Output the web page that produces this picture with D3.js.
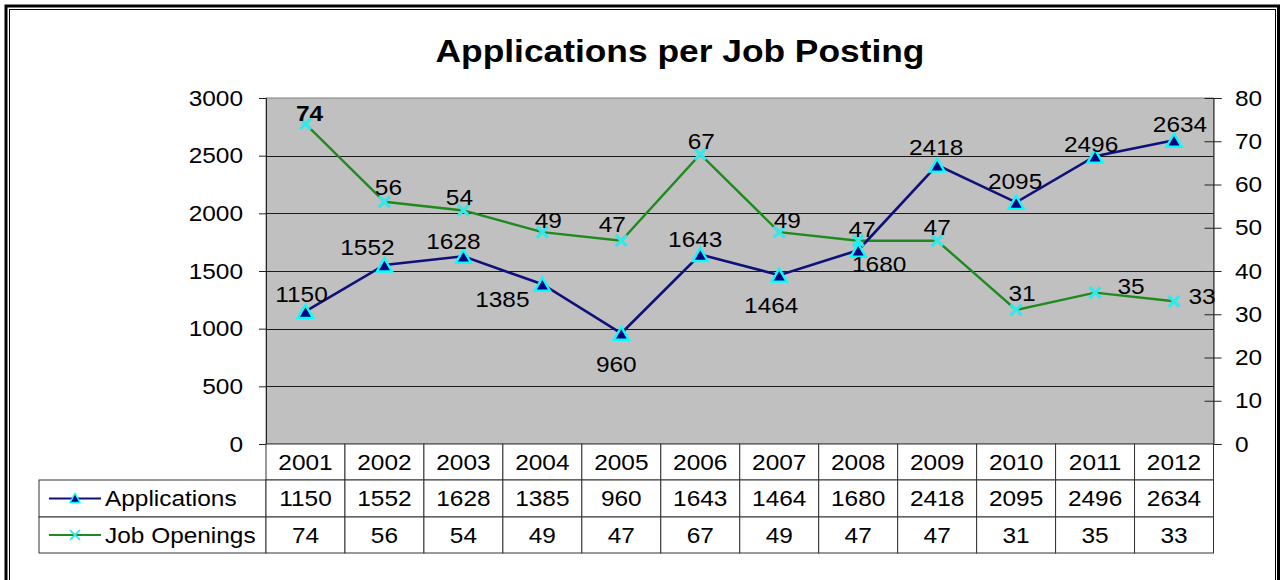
<!DOCTYPE html>
<html>
<head>
<meta charset="utf-8">
<script src="https://cdn.jsdelivr.net/npm/d3@7/dist/d3.min.js"></script>
<style>
  html, body { margin: 0; padding: 0; background: #fff; }
  svg { display: block; }
  text { font-family: "Liberation Sans", Arial, sans-serif; fill: #000; }
</style>
</head>
<body>
<svg id="chart" width="1281" height="580"></svg>
<script>
// ---- data ----
const years = ["2001", "2002", "2003", "2004", "2005", "2006", "2007", "2008", "2009", "2010", "2011", "2012"];
const applications = [1150, 1552, 1628, 1385, 960, 1643, 1464, 1680, 2418, 2095, 2496, 2634];
const jobOpenings = [74, 56, 54, 49, 47, 67, 49, 47, 47, 31, 35, 33];
const leftTicks = [0, 500, 1000, 1500, 2000, 2500, 3000];
const rightTicks = [0, 10, 20, 30, 40, 50, 60, 70, 80];
const seriesNames = ["Applications", "Job Openings"];
const titleText = "Applications per Job Posting";

// hand-placed data label offsets (dx, dy from the point)
const appLabelShift = [[-4, -17], [-17, -18], [-10, -15], [-40, 15], [-5, 31], [-5, -15],
                       [-8, 30], [21, 14], [-1, -18], [-1, -21], [-4, -12], [6, -16]];
const jobLabelShift = [[4, -11], [4, -14], [-4, -13], [6, -12], [-9, -16], [1, -13],
                       [8, -12], [4, -11], [0, -13], [6, -16], [36, -6], [28, -5]];

// ---- layout ----
const svg = d3.select("#chart");
const plot = { left: 266, right: 1213.5, top: 98, bottom: 444 };
const SX = 1.11;          // horizontal stretch of the lettering
const FS = 22;            // base font size

const x = d3.scaleBand().domain(years).range([plot.left, plot.right]).paddingInner(0).paddingOuter(0);
const cx = d => x(d) + x.bandwidth() / 2;
const yL = d3.scaleLinear().domain([0, 3000]).range([plot.bottom, plot.top]);
const yR = d3.scaleLinear().domain([0, 80]).range([plot.bottom, plot.top]);

function label(parent, tx, ty, str, anchor, size, weight, sx) {
  return parent.append("text")
    .attr("transform", `translate(${tx},${ty}) scale(${sx || SX},1)`)
    .attr("text-anchor", anchor || "middle")
    .attr("dominant-baseline", "central")
    .style("font-size", (size || FS) + "px")
    .style("font-weight", weight || "normal")
    .text(str);
}

// outer frame (double rule)
svg.append("rect").attr("x", 6).attr("y", 6).attr("width", 1272.5).attr("height", 620)
  .attr("fill", "none").attr("stroke", "#000").attr("stroke-width", 3);
svg.append("rect").attr("x", 9.5).attr("y", 9.5).attr("width", 1266).attr("height", 620)
  .attr("fill", "none").attr("stroke", "#000").attr("stroke-width", 1);

// title
label(svg, 680, 51, titleText, "middle", 31, "bold", 1.14);

// plot background
svg.append("rect")
  .attr("x", plot.left).attr("y", plot.top)
  .attr("width", plot.right - plot.left).attr("height", plot.bottom - plot.top)
  .attr("fill", "#c0c0c0").attr("stroke", "#808080").attr("stroke-width", 1);

// gridlines
svg.append("g").selectAll("line")
  .data(leftTicks.filter(t => t > 0 && t < 3000))
  .join("line")
  .attr("x1", plot.left).attr("x2", plot.right)
  .attr("y1", d => Math.round(yL(d)) + 0.5).attr("y2", d => Math.round(yL(d)) + 0.5)
  .attr("stroke", "#1a1a1a").attr("stroke-width", 1);

// left axis
const gL = svg.append("g").attr("transform", `translate(${plot.left},0)`)
  .call(d3.axisLeft(yL).tickValues(leftTicks).tickSize(7).tickFormat(""));
gL.selectAll("path, line").attr("stroke", "#222");
leftTicks.forEach(t => label(svg, 243, yL(t), String(t), "end"));

// right axis: ticks cross the axis line
const gR = svg.append("g").attr("transform", `translate(${plot.right},0)`)
  .call(d3.axisRight(yR).tickValues(rightTicks).tickSize(8).tickFormat(""));
gR.selectAll("path, line").attr("stroke", "#222");
gR.selectAll(".tick").append("line").attr("x1", -9).attr("x2", 0).attr("stroke", "#222");
rightTicks.forEach(t => label(svg, 1235, yR(t), String(t), "start"));

// series lines
const appLine = d3.line().x((d, i) => cx(years[i])).y(d => yL(d));
const jobLine = d3.line().x((d, i) => cx(years[i])).y(d => yR(d));

svg.append("path").datum(jobOpenings).attr("d", jobLine)
  .attr("fill", "none").attr("stroke", "#1f8a1f").attr("stroke-width", 2.4);
svg.append("path").datum(applications).attr("d", appLine)
  .attr("fill", "none").attr("stroke", "#10107a").attr("stroke-width", 2.6);

// markers
const triPath = "M0,-7.5 L7.5,5.5 L-7.5,5.5 Z";
const xPath = "M-5.5,-5.5 L5.5,5.5 M-5.5,5.5 L5.5,-5.5";

function drawTri(g, px, py) {
  g.append("path").attr("d", triPath).attr("transform", `translate(${px},${py})`)
    .attr("fill", "#000080").attr("stroke", "#00ffff").attr("stroke-width", 2.4)
    .attr("stroke-linejoin", "miter");
}
function drawX(g, px, py) {
  g.append("path").attr("d", xPath).attr("transform", `translate(${px},${py})`)
    .attr("fill", "none").attr("stroke", "#33e8e8").attr("stroke-width", 3.2);
}

const mk = svg.append("g");
jobOpenings.forEach((v, i) => drawX(mk, cx(years[i]), yR(v)));
applications.forEach((v, i) => drawTri(mk, cx(years[i]), yL(v) + 1));

// data labels
const lab = svg.append("g");
jobOpenings.forEach((v, i) => {
  label(lab, cx(years[i]) + jobLabelShift[i][0], yR(v) + jobLabelShift[i][1], String(v),
        "middle", FS, i === 0 ? "bold" : "normal");
});
applications.forEach((v, i) => {
  label(lab, cx(years[i]) + appLabelShift[i][0], yL(v) + appLabelShift[i][1], String(v));
});

// data table under the plot
const tbl = svg.append("g");
const rowTop = [444, 480, 517];
const rowBot = [480, 517, 553];
const tableLeft = 39;
const bw = x.bandwidth();

// header cells (years)
years.forEach((yr, i) => {
  tbl.append("rect").attr("x", x(yr)).attr("y", rowTop[0])
    .attr("width", bw).attr("height", rowBot[0] - rowTop[0])
    .attr("fill", "#fff").attr("stroke", "#333").attr("stroke-width", 1);
  label(tbl, cx(yr), (rowTop[0] + rowBot[0]) / 2, yr);
});

const tableRows = [applications, jobOpenings];
tableRows.forEach((vals, r) => {
  const top = rowTop[r + 1], bot = rowBot[r + 1], mid = (top + bot) / 2;
  tbl.append("rect").attr("x", tableLeft).attr("y", top)
    .attr("width", plot.left - tableLeft).attr("height", bot - top)
    .attr("fill", "#fff").attr("stroke", "#333").attr("stroke-width", 1);
  vals.forEach((v, i) => {
    tbl.append("rect").attr("x", x(years[i])).attr("y", top)
      .attr("width", bw).attr("height", bot - top)
      .attr("fill", "#fff").attr("stroke", "#333").attr("stroke-width", 1);
    label(tbl, cx(years[i]), mid, String(v));
  });
  // legend key inside the row header
  tbl.append("line").attr("x1", 49).attr("x2", 101).attr("y1", mid).attr("y2", mid)
    .attr("stroke", r === 0 ? "#10107a" : "#1f8a1f").attr("stroke-width", 2.2);
  if (r === 0) {
    tbl.append("path").attr("d", "M0,-5 L5,4 L-5,4 Z").attr("transform", `translate(75,${mid})`)
      .attr("fill", "#000080").attr("stroke", "#00ffff").attr("stroke-width", 1.5);
  } else {
    tbl.append("path").attr("d", xPath).attr("transform", `translate(75,${mid}) scale(0.9)`)
      .attr("fill", "none").attr("stroke", "#33e8e8").attr("stroke-width", 2);
  }
  label(tbl, 105, mid, seriesNames[r], "start");
});
</script>
</body>
</html>
